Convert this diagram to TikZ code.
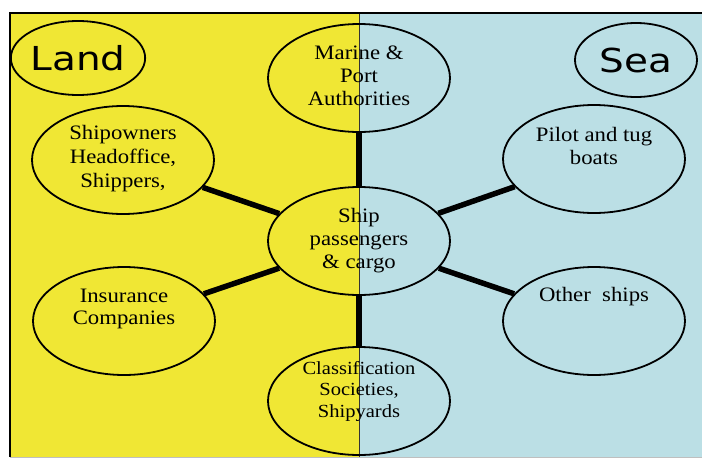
\documentclass[tikz,border=0pt]{standalone}
\usepackage{fontspec}
\setmainfont{Liberation Serif}
\newfontfamily\wideserif[FakeStretch=1.11]{Liberation Serif}
\newfontfamily\labelfont[FakeStretch=1.18]{DejaVu Sans}
\usetikzlibrary{shapes.geometric}
\definecolor{landyellow}{RGB}{240,231,52}
\definecolor{seablue}{RGB}{187,223,229}
\tikzset{
  bubble/.style={ellipse, draw=black, line width=1.8pt, inner sep=0pt,
    minimum width=182pt, minimum height=108pt},
  caption/.style={align=center, inner sep=0pt,
    font=\wideserif\fontsize{20.5}{23}\selectfont},
  realm/.style={ellipse, draw=black, line width=1.8pt, inner sep=0pt,
    font=\labelfont\fontsize{33}{33}\selectfont},
  link/.style={line width=5.5pt, black}
}
\begin{document}
\begin{tikzpicture}[x=1pt,y=-1pt]
  \useasboundingbox (0,0) rectangle (702,466);
  % land and sea halves of the background
  \fill[landyellow] (10,13) rectangle (359,457);
  \fill[seablue] (359,13) rectangle (702,457);
  \draw[line width=0.8pt, black!80] (359,13) -- (359,457);
  \draw[line width=1.8pt] (702,13) -- (10,13) -- (10,457);
  \draw[line width=0.8pt, black!25] (10,457) -- (702,457);

  \node[realm, minimum width=124pt, minimum height=74pt] (land) at (78,58) {Land};
  \node[realm, minimum width=122pt, minimum height=74pt] (sea) at (636,60) {Sea};

  % the ring of parties around the ship
  \node[bubble] (marine) at (359,78) {};
  \node[bubble] (owners) at (123,160) {};
  \node[bubble] (pilot) at (594,159) {};
  \node[bubble] (ship) at (359,241) {};
  \node[bubble] (insurance) at (124,321) {};
  \node[bubble] (other) at (594,321) {};
  \node[bubble] (class) at (359,401) {};

  \node[caption] (marine-t) at (359,76) {Marine \&\\Port\\Authorities};
  \node[caption, font=\wideserif\fontsize{20.5}{24}\selectfont] (owners-t) at (123,159)
    {Shipowners\\Headoffice,\\Shippers,};
  \node[caption] (pilot-t) at (594,146) {Pilot and tug\\boats};
  \node[caption] (ship-t) at (359,241) {Ship\\passengers\\\& cargo};
  \node[caption, font=\wideserif\fontsize{20.5}{22}\selectfont] (insurance-t) at (124,309)
    {Insurance\\Companies};
  \node[caption] (other-t) at (594,297) {Other\ \ ships};
  \node[caption, font=\wideserif\fontsize{18.5}{21.5}\selectfont] (class-t) at (359,391)
    {Classification\\Societies,\\Shipyards};

  \draw[link] (marine) -- (ship);
  \draw[link] (ship) -- (class);
  \draw[link] (ship) -- (owners);
  \draw[link] (ship) -- (insurance);
  \draw[link] (ship) -- (pilot);
  \draw[link] (ship) -- (other);
\end{tikzpicture}
\end{document}
